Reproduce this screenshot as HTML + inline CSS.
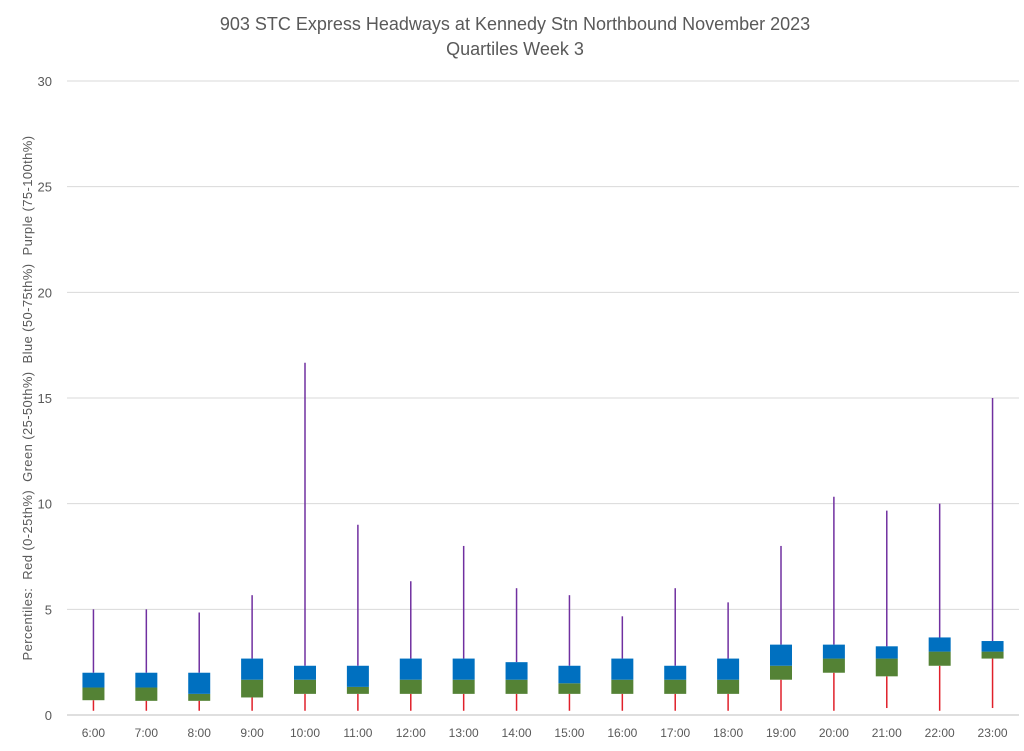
<!DOCTYPE html>
<html><head><meta charset="utf-8"><style>
body{margin:0;background:#fff;font-family:"Liberation Sans",sans-serif}
</style></head><body>
<svg width="1024" height="746" xmlns="http://www.w3.org/2000/svg" font-family="Liberation Sans, sans-serif">
<text x="515" y="30" text-anchor="middle" font-size="18" fill="#595959">903 STC Express Headways at Kennedy Stn Northbound November 2023</text>
<text x="515" y="55" text-anchor="middle" font-size="18" fill="#595959">Quartiles Week 3</text>
<text transform="translate(32,398) rotate(-90)" text-anchor="middle" font-size="13" fill="#595959" style="white-space:pre;letter-spacing:0.4px">Percentiles:  Red (0-25th%)  Green (25-50th%)  Blue (50-75th%)  Purple (75-100th%)</text>
<g id="grid"></g><g id="marks"></g>
</svg>
<script>
const categories=["6:00","7:00","8:00","9:00","10:00","11:00","12:00","13:00","14:00","15:00","16:00","17:00","18:00","19:00","20:00","21:00","22:00","23:00"];
const minVals=[0.2,0.2,0.2,0.2,0.2,0.2,0.2,0.2,0.2,0.2,0.2,0.2,0.2,0.2,0.2,0.33,0.2,0.33];
const q1Vals=[0.7,0.67,0.67,0.83,1.0,1.0,1.0,1.0,1.0,1.0,1.0,1.0,1.0,1.67,2.0,1.83,2.33,2.67];
const medVals=[1.3,1.3,1.0,1.67,1.67,1.33,1.67,1.67,1.67,1.5,1.67,1.67,1.67,2.33,2.67,2.67,3.0,3.0];
const q3Vals=[2.0,2.0,2.0,2.67,2.33,2.33,2.67,2.67,2.5,2.33,2.67,2.33,2.67,3.33,3.33,3.25,3.67,3.5];
const maxVals=[5,5,4.85,5.67,16.67,9,6.33,8,6,5.67,4.67,6,5.33,8,10.33,9.67,10,15];
const yTicks=[0,5,10,15,20,25,30];
const NS="http://www.w3.org/2000/svg";
const x0=67,x1=1019,yZero=715,yTop=81,yMax=30;
const step=(x1-x0)/categories.length;
const yS=v=>yZero-(yZero-yTop)*v/yMax;
const xS=i=>x0+step*(i+0.5);
function mk(tag,attrs,parent){const e=document.createElementNS(NS,tag);for(const k in attrs)e.setAttribute(k,attrs[k]);parent.appendChild(e);return e;}
const grid=document.getElementById('grid'),marks=document.getElementById('marks');
yTicks.forEach(t=>{
  const l=mk('line',{x1:x0,x2:x1,y1:yS(t),y2:yS(t),stroke:t===0?'#bfbfbf':'#d9d9d9','stroke-width':1},grid);
  
  
  const tx=mk('text',{x:52,y:yS(t)+5,'text-anchor':'end','font-size':13,fill:'#595959'},grid);
  tx.textContent=t;
  
  
});
categories.forEach((c,i)=>{
  const cx=xS(i),w=22;
  const tx=mk('text',{x:cx,y:737,'text-anchor':'middle','font-size':12,fill:'#595959'},grid);
  tx.textContent=c;
  
  
  const lo=mk('line',{x1:cx,x2:cx,y1:yS(minVals[i]),y2:yS(q1Vals[i]),stroke:'#e0202a','stroke-width':1.5},marks);
  
  
  const hi=mk('line',{x1:cx,x2:cx,y1:yS(maxVals[i]),y2:yS(q3Vals[i]),stroke:'#7030a0','stroke-width':1.5},marks);
  
  
  const g=mk('rect',{x:cx-w/2,y:yS(medVals[i]),width:w,height:yS(q1Vals[i])-yS(medVals[i]),fill:'#548235'},marks);
  
  
  const b=mk('rect',{x:cx-w/2,y:yS(q3Vals[i]),width:w,height:yS(medVals[i])-yS(q3Vals[i]),fill:'#0070c0'},marks);
  
  
});
</script>
</body></html>
